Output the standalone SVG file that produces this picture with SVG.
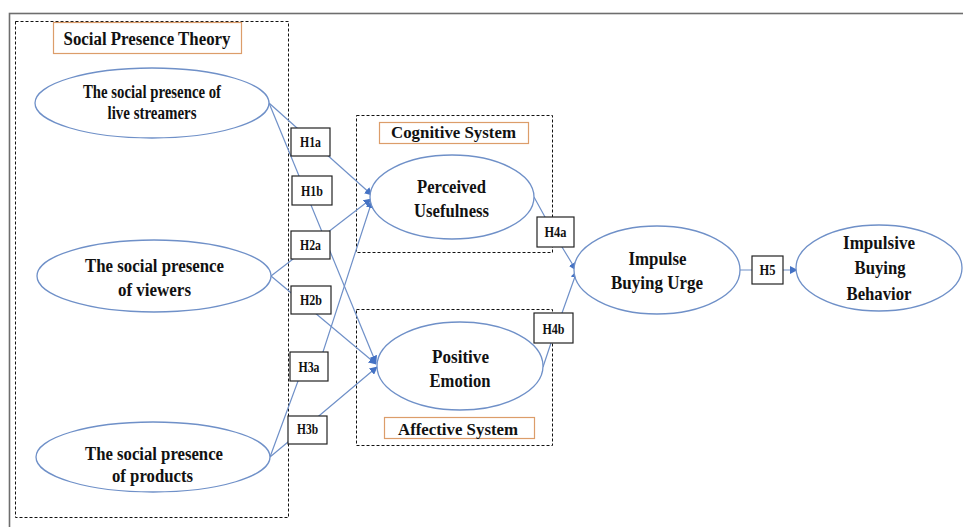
<svg xmlns="http://www.w3.org/2000/svg" width="963" height="527" viewBox="0 0 963 527">
<style>
.t{font-family:"Liberation Serif","Times New Roman",serif;font-weight:bold;fill:#111;text-anchor:middle}
.n{font-size:18px}
.h{font-size:15px}
.ell{fill:#fff;stroke:#6f90c8;stroke-width:1.3}
.hb{fill:#fff;stroke:#222;stroke-width:1.2}
.dash{fill:none;stroke:#111;stroke-width:1;stroke-dasharray:3 2}
.tb{fill:#fff;stroke:#dc9d6a;stroke-width:1.2}
.c{fill:none;stroke:#6f90c8;stroke-width:1.2}
</style>
<defs>
<marker id="ah" viewBox="0 0 10 10" refX="9" refY="5" markerWidth="8" markerHeight="8" markerUnits="userSpaceOnUse" orient="auto">
<path d="M0,0 L10,5 L0,10 z" fill="#4472c4"/>
</marker>
</defs>
<rect width="963" height="527" fill="#fff"/>
<rect x="9.5" y="13.5" width="960" height="520" fill="none" stroke="#6e6e6e" stroke-width="1.6"/>

<g id="spt-frame">
<rect class="dash" x="15.5" y="21.5" width="273" height="496"/>
<rect class="tb" x="53.5" y="22.5" width="188" height="31"/>
<text class="t" x="147" y="45" font-size="18" textLength="167" lengthAdjust="spacingAndGlyphs">Social Presence Theory</text>
</g>
<g id="cog-frame">
<rect class="dash" x="356.5" y="115.5" width="196" height="137"/>
<rect class="tb" x="379.5" y="122.5" width="149" height="21"/>
<text class="t" x="453.5" y="138" font-size="17" textLength="125" lengthAdjust="spacingAndGlyphs">Cognitive System</text>
</g>
<g id="aff-frame">
<rect class="dash" x="356.5" y="309.5" width="196" height="136"/>
<rect class="tb" x="384.5" y="417.5" width="150" height="21"/>
<text class="t" x="458" y="435" font-size="17" textLength="120" lengthAdjust="spacingAndGlyphs">Affective System</text>
</g>

<g id="connectors">
<polyline class="c" points="269,103 372,195" marker-end="url(#ah)"/>
<polyline class="c" points="269,103 376,363" marker-end="url(#ah)"/>
<polyline class="c" points="271,276 371,199" marker-end="url(#ah)"/>
<polyline class="c" points="271,276 376,364" marker-end="url(#ah)"/>
<polyline class="c" points="270,457 298,381 323,352 372,201" marker-end="url(#ah)"/>
<polyline class="c" points="270,457 288,442 320,415 377,367" marker-end="url(#ah)"/>
<polyline class="c" points="534,197 545,217 562,247 576,270" marker-end="url(#ah)"/>
<polyline class="c" points="543,367 551,343 562,313 577,271" marker-end="url(#ah)"/>
<polyline class="c" points="740,270 797,270" marker-end="url(#ah)"/>
</g>

<g id="n-streamers">
<ellipse class="ell" cx="152" cy="103" rx="117" ry="35"/>
<text class="t n" x="152" y="98" textLength="138" lengthAdjust="spacingAndGlyphs">The social presence of</text>
<text class="t n" x="152" y="119" textLength="89" lengthAdjust="spacingAndGlyphs">live streamers</text>
</g>
<g id="n-viewers">
<ellipse class="ell" cx="154" cy="276" rx="117" ry="36"/>
<text class="t n" x="154.5" y="272" textLength="139" lengthAdjust="spacingAndGlyphs">The social presence</text>
<text class="t n" x="154.5" y="296" textLength="73" lengthAdjust="spacingAndGlyphs">of viewers</text>
</g>
<g id="n-products">
<ellipse class="ell" cx="153" cy="457" rx="117" ry="35"/>
<text class="t n" x="154" y="460" textLength="138" lengthAdjust="spacingAndGlyphs">The social presence</text>
<text class="t n" x="152.5" y="482" textLength="81" lengthAdjust="spacingAndGlyphs">of products</text>
</g>
<g id="n-pu">
<ellipse class="ell" cx="452" cy="197" rx="82" ry="42"/>
<text class="t" font-size="19" x="451.5" y="193" textLength="69" lengthAdjust="spacingAndGlyphs">Perceived</text>
<text class="t" font-size="19" x="451.5" y="217" textLength="75" lengthAdjust="spacingAndGlyphs">Usefulness</text>
</g>
<g id="n-pe">
<ellipse class="ell" cx="460" cy="366" rx="83" ry="44"/>
<text class="t" font-size="19" x="460.5" y="363" textLength="57" lengthAdjust="spacingAndGlyphs">Positive</text>
<text class="t" font-size="19" x="460" y="387" textLength="61" lengthAdjust="spacingAndGlyphs">Emotion</text>
</g>
<g id="n-ibu">
<ellipse class="ell" cx="657" cy="270" rx="83" ry="44"/>
<text class="t" font-size="19" x="657.5" y="265" textLength="58" lengthAdjust="spacingAndGlyphs">Impulse</text>
<text class="t" font-size="19" x="657" y="289" textLength="92" lengthAdjust="spacingAndGlyphs">Buying Urge</text>
</g>
<g id="n-ibb">
<ellipse class="ell" cx="879" cy="268" rx="83" ry="43"/>
<text class="t" font-size="19" x="879" y="249" textLength="72" lengthAdjust="spacingAndGlyphs">Impulsive</text>
<text class="t" font-size="19" x="880" y="274" textLength="51" lengthAdjust="spacingAndGlyphs">Buying</text>
<text class="t" font-size="19" x="879" y="300" textLength="65" lengthAdjust="spacingAndGlyphs">Behavior</text>
</g>

<g id="h1a"><rect class="hb" x="291" y="128" width="39" height="28"/><text class="t h" x="310.5" y="147" textLength="21" lengthAdjust="spacingAndGlyphs">H1a</text></g>
<g id="h1b"><rect class="hb" x="292" y="176" width="40" height="29"/><text class="t h" x="312" y="196" textLength="22" lengthAdjust="spacingAndGlyphs">H1b</text></g>
<g id="h2a"><rect class="hb" x="291" y="231" width="39" height="28"/><text class="t h" x="310.5" y="250" textLength="21" lengthAdjust="spacingAndGlyphs">H2a</text></g>
<g id="h2b"><rect class="hb" x="291" y="286" width="40" height="28"/><text class="t h" x="311" y="305" textLength="22" lengthAdjust="spacingAndGlyphs">H2b</text></g>
<g id="h3a"><rect class="hb" x="290" y="352" width="38" height="29"/><text class="t h" x="309" y="372" textLength="21" lengthAdjust="spacingAndGlyphs">H3a</text></g>
<g id="h3b"><rect class="hb" x="288" y="416" width="39" height="28"/><text class="t h" x="307.5" y="434" textLength="21" lengthAdjust="spacingAndGlyphs">H3b</text></g>
<g id="h4a"><rect class="hb" x="537" y="217" width="37" height="30"/><text class="t h" x="555.5" y="237" textLength="22" lengthAdjust="spacingAndGlyphs">H4a</text></g>
<g id="h4b"><rect class="hb" x="534" y="313" width="39" height="30"/><text class="t h" x="553.5" y="334" textLength="22" lengthAdjust="spacingAndGlyphs">H4b</text></g>
<g id="h5"><rect class="hb" x="752" y="256" width="31" height="28"/><text class="t h" x="767.5" y="275" textLength="16" lengthAdjust="spacingAndGlyphs">H5</text></g>
</svg>
